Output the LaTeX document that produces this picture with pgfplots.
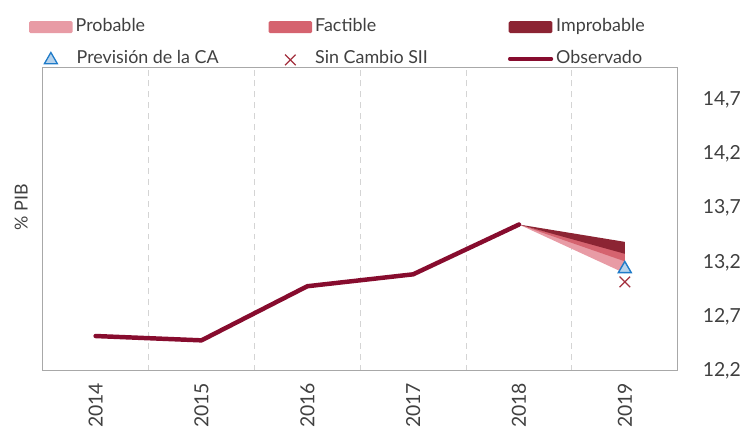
\documentclass[border=0pt]{standalone}
\usepackage{fontspec}
\setmainfont{Lato}
\usepackage{pgfplots}
\pgfplotsset{compat=1.18}
\definecolor{probcol}{HTML}{E89BA5}
\definecolor{factcol}{HTML}{D5636F}
\definecolor{improbcol}{HTML}{8C2433}
\definecolor{obscol}{HTML}{870C2E}
\definecolor{tricol}{HTML}{1F7BC8}
\definecolor{trifill}{HTML}{B7D3EC}
\definecolor{xcol}{HTML}{A3303E}
\definecolor{gridcol}{HTML}{D4D4D4}
\definecolor{boxcol}{HTML}{A8A8A8}
\definecolor{txtcol}{HTML}{404040}
\begin{document}
\begin{tikzpicture}
\begin{axis}[
  name=ax,
  scale only axis,
  width=639pt, height=305pt,
  xmin=-0.5, xmax=5.5,
  ymin=12.2, ymax=15.0,
  axis line style={boxcol, line width=1.3pt},
  xtick={0,1,2,3,4,5},
  xticklabels={2014,2015,2016,2017,2018,2019},
  minor xtick={0.5,1.5,2.5,3.5,4.5},
  xminorgrids,
  minor x grid style={gridcol, dashed, line width=1pt, dash pattern=on 6pt off 5pt},
  major tick length=0pt, minor tick length=0pt,
  ytick={12.2,12.7,13.2,13.7,14.2,14.7},
  yticklabel pos=right,
  /pgf/number format/.cd, use comma, fixed, fixed zerofill, precision=1, assume math mode=true,
  /pgfplots/.cd,
  tick label style={font=\fontsize{19.5}{22}\selectfont, text=txtcol},
  xticklabel style={rotate=90, anchor=east, inner sep=0pt},
  xticklabel shift=12pt,
  yticklabel style={anchor=west, inner sep=0pt},
  yticklabel shift=25pt,
  ylabel={\% PIB},
  ylabel style={at={(axis description cs:-0.034,0.54)}, anchor=center, font=\fontsize{18}{20}\selectfont, text=txtcol},
  legend columns=3,
  legend style={at={(axis description cs:0,1)}, anchor=south west, xshift=-14pt, yshift=0pt,
    draw=none, fill=none, inner sep=0pt, column sep=3pt, row sep=15pt,
    font=\fontsize{18}{20}\selectfont, text=txtcol,
    nodes={inner sep=0pt, text height=13pt, text depth=4pt, anchor=west}},
]
% Probable
\addplot[draw=none, fill=probcol,
  legend image code/.code={\fill[probcol, rounded corners=1.5pt] (0pt,-6pt) rectangle (44pt,6pt);}]
  coordinates {(4,13.55) (5,13.23) (5,13.10) (4,13.55)} --cycle;
\addlegendentry{\makebox[191pt][l]{Probable}}
% Factible
\addplot[draw=none, fill=factcol,
  legend image code/.code={\fill[factcol, rounded corners=1.5pt] (0pt,-6pt) rectangle (44pt,6pt);}]
  coordinates {(4,13.55) (5,13.29) (5,13.21) (4,13.55)} --cycle;
\addlegendentry{\makebox[191pt][l]{Factible}}
% Improbable
\addplot[draw=none, fill=improbcol,
  legend image code/.code={\fill[improbcol, rounded corners=1.5pt] (0pt,-6pt) rectangle (44pt,6pt);}]
  coordinates {(4,13.55) (5,13.39) (5,13.28) (4,13.55)} --cycle;
\addlegendentry{\makebox[191pt][l]{Improbable}}
\addplot[only marks, mark=triangle*, mark size=7.5pt, mark options={draw=tricol, fill=trifill, line width=1.4pt},
  legend image code/.code={\draw[mark=triangle*, mark size=7.5pt, mark options={draw=tricol, fill=trifill, line width=1.3pt}] plot coordinates {(22pt,-1pt)};}]
  coordinates {(5,13.14)};
\addlegendentry{\makebox[191pt][l]{\hspace{1pt}Previsión de la CA}}
\addplot[only marks, mark=x, mark size=7.5pt, mark options={draw=xcol, line width=1.2pt},
  legend image code/.code={\draw[mark=x, mark size=7.5pt, mark options={draw=xcol, line width=1.2pt}] plot coordinates {(22pt,-1pt)};}]
  coordinates {(5,13.02)};
\addlegendentry{\makebox[191pt][l]{Sin Cambio SII}}
\addplot[obscol, line width=4.5pt, line join=round, line cap=round,
  legend image code/.code={\draw[obscol, line width=3.5pt, line cap=round] (1pt,0pt) -- (43pt,0pt);}]
  coordinates {(0,12.52) (1,12.48) (2,12.98) (3,13.09) (4,13.55)};
\addlegendentry{Observado}
\end{axis}
\path[use as bounding box] ([xshift=-43pt,yshift=-58pt]ax.south west) rectangle ([xshift=64pt,yshift=68pt]ax.north east);
\end{tikzpicture}
\end{document}
